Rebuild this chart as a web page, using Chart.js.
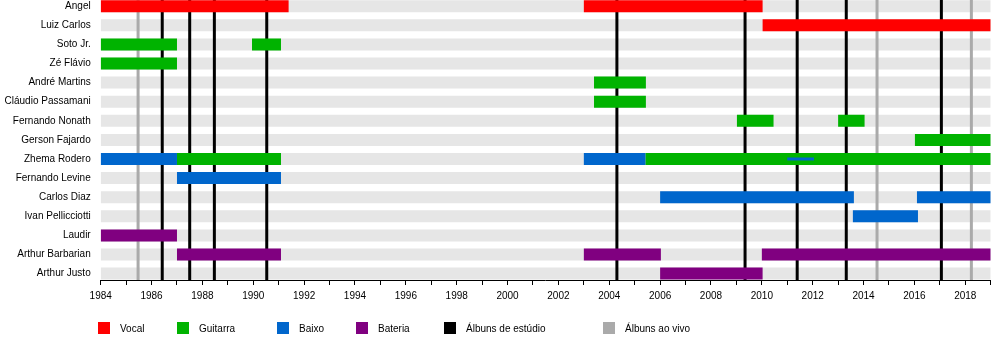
<!DOCTYPE html>
<html><head><meta charset="utf-8">
<script src="https://cdn.jsdelivr.net/npm/chart.js@4/dist/chart.umd.min.js"></script>
<style>
html,body{margin:0;padding:0;background:#fff;}
#wrap{position:relative;width:1000px;height:340px;overflow:hidden;}
canvas{position:absolute;left:0;top:0;}
.lg{position:absolute;top:322px;height:12px;font:10px "Liberation Sans",Arial,sans-serif;color:#000;}
.lg .box{position:absolute;left:0;top:0;width:12px;height:12px;}
.lg .t{position:absolute;left:22px;top:1px;line-height:12px;white-space:nowrap;}
</style></head>
<body><div id="wrap"><canvas id="c" width="1000" height="340"></canvas><div id="legend"></div></div>
<script>
// ---- data ----
const members = ['Angel','Luiz Carlos','Soto Jr.','Zé Flávio','André Martins','Cláudio Passamani','Fernando Nonath','Gerson Fajardo','Zhema Rodero','Fernando Levine','Carlos Diaz','Ivan Pellicciotti','Laudir','Arthur Barbarian','Arthur Justo'];
const period = [1984, 2019];
const yearLabels = [1984,1986,1988,1990,1992,1994,1996,1998,2000,2002,2004,2006,2008,2010,2012,2014,2016,2018];
const vocal = [['Angel',1984,1991.39],['Angel',2003.0,2010.03],['Luiz Carlos',2010.03,2019]];
const guitarra = [['Soto Jr.',1984,1987.0],['Soto Jr.',1989.95,1991.09],['Zé Flávio',1984,1987.0],
  ['André Martins',2003.4,2005.44],['Cláudio Passamani',2003.4,2005.44],
  ['Fernando Nonath',2009.02,2010.46],['Fernando Nonath',2013.0,2014.04],
  ['Gerson Fajardo',2016.02,2019],['Zhema Rodero',1987.0,1991.09],['Zhema Rodero',2005.43,2019]];
const baixo = [['Zhema Rodero',1984,1987.0],['Zhema Rodero',2003.0,2005.43],['Fernando Levine',1987.0,1991.09],
  ['Carlos Diaz',2006.0,2013.62],['Carlos Diaz',2016.1,2019],['Ivan Pellicciotti',2013.58,2016.14]];
const baixoExtra = [['Zhema Rodero',2011.0,2012.05]];
const bateria = [['Laudir',1984,1987.0],['Arthur Barbarian',1987.0,1991.09],['Arthur Barbarian',2003.0,2006.03],
  ['Arthur Barbarian',2010.0,2019],['Arthur Justo',2006.0,2010.03]];
const studioAlbums = [1986.42,1987.5,1988.47,1990.53,2004.3,2009.34,2011.39,2013.32,2017.06];
const liveAlbums = [1985.47,2014.53,2018.24];

// ---- styles ----
const FONT = '"Liberation Sans", Arial, sans-serif';
const C = {vocal:'#ff0000', guitarra:'#00b300', baixo:'#0066cc', bateria:'#800080', studio:'#000000', live:'#aaaaaa', band:'#e6e6e6'};

const toBars = (rows) => rows.map(r => ({x:[r[1], r[2]], y: members.indexOf(r[0])}));
const barDs = (label, rows, color, order, thick) => ({
  type:'bar', label, data: toBars(rows), indexAxis:'y', xAxisID:'x', yAxisID:'y',
  backgroundColor: color, borderWidth:0, maxBarThickness: thick, grouped:false, order
});
const lineDs = (yr, color) => ({
  type:'line', data:[{x:yr, y:0},{x:yr, y:1}], xAxisID:'x', yAxisID:'y2',
  borderColor: color, borderWidth:3, pointRadius:0, fill:false, order:5
});

const datasets = [
  barDs('band', members.map(m => [m, period[0], period[1]]), C.band, 10, 12),
  ...liveAlbums.map(y => lineDs(y, C.live)),
  ...studioAlbums.map(y => lineDs(y, C.studio)),
  barDs('Vocal', vocal, C.vocal, 1, 12),
  barDs('Guitarra', guitarra, C.guitarra, 1, 12),
  barDs('Baixo', baixo, C.baixo, 1, 12),
  barDs('Bateria', bateria, C.bateria, 1, 12),
  barDs('Baixo2', baixoExtra, C.baixo, 0, 3)
];

new Chart(document.getElementById('c'), {
  type:'bar',
  data:{datasets},
  options:{
    responsive:false, animation:false, devicePixelRatio:1,
    layout:{padding:{left:0,right:9.3,top:0,bottom:0}},
    plugins:{legend:{display:false}, tooltip:{enabled:false}},
    scales:{
      x:{type:'linear', min:period[0], max:period[1], position:'bottom', offset:false, beginAtZero:false,
        border:{display:true, color:'#000', width:1},
        grid:{offset:false, drawOnChartArea:false, drawTicks:true, tickLength:5, color:'#000', tickWidth:1},
        ticks:{stepSize:1, autoSkip:false, maxRotation:0, padding:5, color:'#000', font:{family:FONT, size:10},
          callback:(v)=> yearLabels.includes(v) ? String(v) : ''},
        afterFit:(s)=>{s.height=60; s.paddingLeft=0; s.paddingRight=0;}
      },
      y:{type:'linear', reverse:true, min:-0.3246, max:14.335, position:'left', offset:false, beginAtZero:false,
        grid:{offset:false, display:false, drawTicks:false}, border:{display:false},
        afterBuildTicks:(s)=>{ s.ticks = members.map((m,i)=>({value:i})); },
        ticks:{autoSkip:false, padding:10, color:'#000', font:{family:FONT, size:10},
          callback:(v)=> members[v]},
        afterFit:(s)=>{s.width=100.7; s.paddingTop=0; s.paddingBottom=0;}
      },
      y2:{type:'linear', min:0, max:1, display:false, offset:false}
    }
  }
});

// ---- legend (HTML text) ----
const legendItems = [
  ['Vocal', C.vocal, 98], ['Guitarra', C.guitarra, 177], ['Baixo', C.baixo, 277], ['Bateria', C.bateria, 356],
  ['Álbuns de estúdio', C.studio, 444], ['Álbuns ao vivo', C.live, 603]
];
const lg = document.getElementById('legend');
legendItems.forEach(([t, col, x]) => {
  const d = document.createElement('div');
  d.className = 'lg'; d.style.left = x + 'px';
  d.innerHTML = '<span class="box" style="background:' + col + '"></span><span class="t">' + t + '</span>';
  lg.appendChild(d);
});
</script>
</body></html>
